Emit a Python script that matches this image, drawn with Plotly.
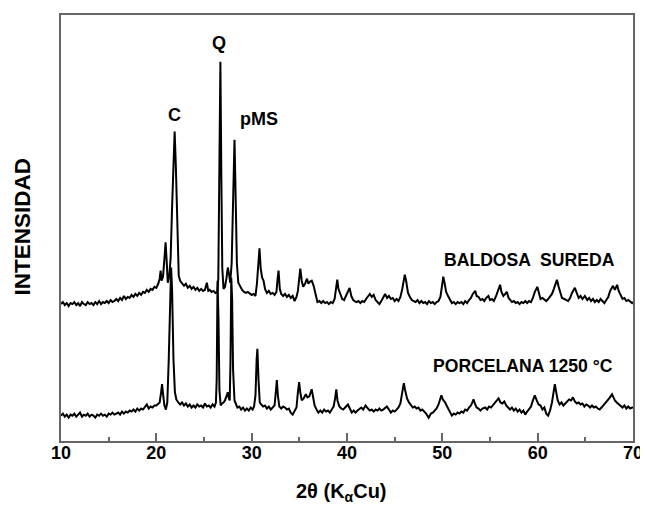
import plotly.graph_objects as go

# ---- data: (2theta, intensity in arbitrary units) ----
baldosa_points = [
    (10.0, 135), (10.2, 137), (10.4, 134), (10.6, 136), (10.8, 133), (11.0, 136), (11.2, 135), (11.4, 137),
    (11.6, 134), (11.8, 136), (12.0, 133), (12.2, 137), (12.4, 135), (12.6, 134), (12.8, 137), (13.0, 135),
    (13.2, 136), (13.4, 134), (13.6, 137), (13.8, 135), (14.0, 138), (14.2, 135), (14.4, 137), (14.6, 136),
    (14.8, 138), (15.0, 136), (15.2, 139), (15.4, 137), (15.6, 138), (15.8, 140), (16.0, 138), (16.2, 141),
    (16.4, 139), (16.6, 143), (16.8, 140), (17.0, 142), (17.2, 141), (17.4, 144), (17.6, 142), (17.8, 145),
    (18.0, 143), (18.2, 146), (18.4, 144), (18.6, 147), (18.8, 146), (19.0, 149), (19.2, 147), (19.4, 150),
    (19.6, 149), (19.8, 152), (20.0, 151), (20.2, 155), (20.35, 160), (20.45, 168), (20.55, 158), (20.7, 162),
    (20.85, 180), (20.97, 196), (21.1, 175), (21.2, 156), (21.35, 162), (21.5, 180), (21.65, 230), (21.8, 285),
    (21.92, 305), (22.05, 270), (22.2, 200), (22.35, 163), (22.5, 158), (22.7, 155), (22.9, 153), (23.1, 155),
    (23.3, 151), (23.5, 153), (23.7, 150), (23.9, 152), (24.1, 149), (24.3, 151), (24.5, 148), (24.7, 150),
    (24.9, 148), (25.1, 149), (25.3, 156), (25.45, 148), (25.6, 149), (25.8, 147), (26.0, 148), (26.2, 146),
    (26.4, 147), (26.5, 160), (26.6, 250), (26.72, 374), (26.82, 260), (26.92, 170), (27.05, 150), (27.2, 152),
    (27.35, 160), (27.5, 171), (27.62, 165), (27.75, 156), (27.9, 175), (28.05, 250), (28.2, 297), (28.32, 240),
    (28.45, 175), (28.6, 156), (28.8, 152), (29.0, 149), (29.2, 147), (29.4, 146), (29.6, 147), (29.8, 145),
    (30.0, 144), (30.2, 145), (30.4, 143), (30.55, 155), (30.7, 180), (30.82, 190), (30.95, 170), (31.1, 161),
    (31.25, 158), (31.4, 150), (31.6, 146), (31.8, 148), (32.0, 145), (32.2, 146), (32.4, 144), (32.6, 147),
    (32.72, 160), (32.82, 168), (32.95, 150), (33.1, 145), (33.3, 143), (33.5, 145), (33.7, 142), (33.9, 144),
    (34.1, 141), (34.3, 143), (34.5, 138), (34.7, 142), (34.85, 148), (35.0, 160), (35.1, 170), (35.25, 158),
    (35.4, 152), (35.6, 155), (35.8, 160), (35.95, 155), (36.1, 157), (36.3, 158), (36.5, 153), (36.7, 145),
    (36.9, 137), (37.1, 138), (37.3, 136), (37.5, 138), (37.7, 136), (37.9, 137), (38.1, 135), (38.3, 137),
    (38.5, 136), (38.7, 140), (38.85, 150), (38.98, 159), (39.1, 150), (39.3, 145), (39.5, 140), (39.7, 139),
    (39.9, 143), (40.1, 148), (40.27, 151), (40.45, 143), (40.65, 139), (40.8, 138), (41.0, 137), (41.2, 138),
    (41.4, 136), (41.6, 138), (41.8, 137), (42.0, 140), (42.2, 143), (42.4, 145), (42.6, 142), (42.8, 144),
    (43.0, 139), (43.2, 137), (43.4, 135), (43.6, 138), (43.8, 142), (44.0, 145), (44.2, 141), (44.4, 143),
    (44.6, 140), (44.8, 141), (45.0, 138), (45.2, 140), (45.4, 138), (45.6, 142), (45.8, 150), (45.95, 160),
    (46.06, 164), (46.2, 158), (46.4, 146), (46.6, 142), (46.8, 139), (47.0, 138), (47.2, 137), (47.4, 139),
    (47.6, 136), (47.8, 138), (48.0, 136), (48.2, 137), (48.4, 135), (48.6, 138), (48.8, 136), (49.0, 137),
    (49.2, 135), (49.4, 137), (49.6, 138), (49.8, 142), (49.95, 150), (50.1, 162), (50.25, 155), (50.4, 147),
    (50.6, 143), (50.8, 139), (51.0, 136), (51.2, 137), (51.4, 135), (51.6, 137), (51.8, 136), (52.0, 137),
    (52.2, 135), (52.4, 138), (52.6, 136), (52.8, 139), (53.0, 141), (53.2, 145), (53.45, 148), (53.6, 143),
    (53.8, 142), (54.0, 139), (54.2, 140), (54.4, 138), (54.6, 141), (54.84, 143), (55.0, 139), (55.2, 140),
    (55.4, 138), (55.6, 142), (55.8, 148), (55.95, 153), (56.06, 154), (56.2, 147), (56.4, 143), (56.6, 145),
    (56.76, 147), (56.95, 141), (57.1, 139), (57.3, 137), (57.5, 138), (57.7, 136), (57.9, 137), (58.1, 135),
    (58.3, 137), (58.5, 136), (58.7, 138), (58.9, 136), (59.1, 138), (59.3, 137), (59.5, 141), (59.7, 147),
    (59.96, 152), (60.15, 145), (60.3, 140), (60.5, 141), (60.7, 139), (60.9, 138), (61.1, 140), (61.3, 142),
    (61.5, 145), (61.7, 150), (61.85, 155), (62.02, 159), (62.2, 152), (62.4, 145), (62.55, 141), (62.8, 140),
    (63.0, 139), (63.2, 138), (63.4, 141), (63.6, 146), (63.9, 151), (64.1, 146), (64.3, 141), (64.5, 143),
    (64.7, 140), (64.95, 143), (65.2, 139), (65.4, 141), (65.6, 138), (65.8, 140), (66.0, 137), (66.2, 139),
    (66.4, 137), (66.6, 140), (66.8, 138), (67.0, 136), (67.2, 139), (67.4, 142), (67.6, 148), (67.9, 153),
    (68.1, 149), (68.33, 154), (68.5, 148), (68.7, 143), (68.9, 140), (69.1, 141), (69.3, 138), (69.5, 139),
    (69.7, 137), (69.9, 136), (70.0, 137),
]

porcelana_points = [
    (10.0, 25), (10.2, 27), (10.4, 24), (10.6, 26), (10.8, 23), (11.0, 26), (11.2, 25), (11.4, 27),
    (11.6, 24), (11.8, 26), (12.0, 28), (12.2, 24), (12.4, 26), (12.6, 25), (12.8, 27), (13.0, 24),
    (13.2, 26), (13.4, 25), (13.6, 23), (13.8, 26), (14.0, 25), (14.2, 27), (14.4, 25), (14.6, 26),
    (14.8, 24), (15.0, 27), (15.2, 26), (15.4, 28), (15.6, 26), (15.8, 27), (16.0, 28), (16.2, 26),
    (16.4, 29), (16.6, 27), (16.8, 29), (17.0, 28), (17.2, 30), (17.4, 29), (17.6, 31), (17.8, 29),
    (18.0, 32), (18.2, 30), (18.4, 32), (18.6, 31), (18.8, 33), (19.0, 36), (19.2, 32), (19.4, 34),
    (19.6, 33), (19.8, 35), (20.0, 35), (20.2, 37), (20.35, 38), (20.5, 48), (20.6, 56), (20.72, 45),
    (20.85, 35), (21.0, 31), (21.15, 38), (21.3, 80), (21.45, 150), (21.55, 171), (21.65, 150), (21.8, 80),
    (21.95, 48), (22.1, 41), (22.3, 38), (22.5, 36), (22.7, 38), (22.9, 35), (23.1, 37), (23.3, 34),
    (23.5, 36), (23.7, 33), (23.9, 35), (24.1, 33), (24.3, 36), (24.5, 34), (24.7, 35), (24.9, 33),
    (25.1, 37), (25.3, 34), (25.5, 35), (25.7, 33), (25.9, 36), (26.1, 34), (26.25, 38), (26.33, 60),
    (26.42, 158), (26.52, 120), (26.62, 50), (26.75, 35), (26.9, 37), (27.05, 38), (27.2, 40), (27.35, 44),
    (27.5, 48), (27.62, 42), (27.7, 40), (27.78, 80), (27.86, 161), (27.95, 140), (28.05, 70), (28.2, 40),
    (28.35, 36), (28.5, 33), (28.7, 34), (28.9, 31), (29.1, 33), (29.3, 30), (29.5, 32), (29.7, 30),
    (29.9, 33), (30.1, 31), (30.25, 34), (30.4, 45), (30.52, 80), (30.6, 91), (30.72, 60), (30.85, 38),
    (31.0, 36), (31.2, 34), (31.4, 35), (31.6, 32), (31.8, 34), (32.0, 31), (32.2, 33), (32.4, 35),
    (32.55, 50), (32.64, 60), (32.75, 45), (32.9, 34), (33.1, 32), (33.3, 34), (33.5, 33), (33.7, 31),
    (33.9, 32), (34.1, 28), (34.3, 26), (34.5, 29), (34.7, 33), (34.85, 48), (34.98, 58), (35.1, 48),
    (35.25, 40), (35.45, 42), (35.68, 46), (35.85, 43), (36.05, 44), (36.3, 51), (36.45, 42), (36.6, 35),
    (36.86, 30), (37.0, 28), (37.2, 30), (37.4, 28), (37.6, 31), (37.8, 29), (38.0, 30), (38.2, 28),
    (38.4, 31), (38.6, 34), (38.75, 42), (38.88, 51), (39.0, 40), (39.2, 34), (39.4, 32), (39.6, 31),
    (39.8, 33), (40.0, 35), (40.1, 36), (40.3, 32), (40.5, 28), (40.7, 30), (40.9, 28), (41.1, 30),
    (41.3, 32), (41.5, 33), (41.7, 31), (41.95, 35), (42.2, 32), (42.4, 30), (42.6, 31), (42.8, 29),
    (43.0, 31), (43.2, 30), (43.4, 32), (43.6, 30), (43.8, 31), (44.0, 33), (44.18, 34), (44.4, 31),
    (44.6, 28), (44.8, 30), (45.0, 29), (45.2, 31), (45.4, 33), (45.6, 37), (45.8, 47), (45.96, 57),
    (46.1, 50), (46.3, 42), (46.5, 38), (46.7, 35), (46.9, 33), (47.1, 34), (47.3, 32), (47.5, 33),
    (47.7, 30), (47.9, 31), (48.1, 29), (48.3, 27), (48.57, 23), (48.8, 27), (49.0, 28), (49.2, 30),
    (49.4, 32), (49.6, 36), (49.78, 42), (49.9, 45), (50.05, 41), (50.3, 38), (50.5, 34), (50.7, 30),
    (50.85, 27), (51.0, 25), (51.2, 27), (51.4, 26), (51.6, 28), (51.8, 27), (52.0, 29), (52.2, 28),
    (52.4, 31), (52.6, 30), (52.8, 33), (53.0, 35), (53.15, 38), (53.27, 41), (53.45, 36), (53.6, 33),
    (53.8, 32), (54.0, 30), (54.2, 32), (54.5, 33), (54.7, 31), (54.9, 34), (55.1, 33), (55.3, 35),
    (55.5, 37), (55.7, 39), (55.9, 42), (56.1, 38), (56.3, 37), (56.5, 39), (56.7, 35), (56.9, 33),
    (57.1, 31), (57.3, 33), (57.5, 30), (57.7, 32), (57.9, 29), (58.1, 31), (58.3, 28), (58.5, 30),
    (58.7, 26), (58.9, 29), (59.1, 31), (59.3, 34), (59.5, 40), (59.7, 45), (59.9, 40), (60.1, 36),
    (60.3, 35), (60.5, 31), (60.7, 33), (60.9, 27), (61.1, 25), (61.3, 30), (61.5, 38), (61.65, 48),
    (61.8, 56), (61.95, 48), (62.1, 40), (62.3, 36), (62.5, 38), (62.7, 35), (62.9, 37), (63.1, 39),
    (63.3, 41), (63.5, 40), (63.7, 43), (63.9, 39), (64.1, 37), (64.3, 38), (64.5, 36), (64.7, 37),
    (64.9, 34), (65.1, 36), (65.3, 35), (65.5, 33), (65.7, 35), (65.9, 33), (66.1, 34), (66.3, 32),
    (66.5, 31), (66.7, 33), (66.9, 35), (67.1, 37), (67.3, 40), (67.5, 42), (67.65, 44), (67.8, 46),
    (67.95, 43), (68.1, 40), (68.3, 38), (68.5, 36), (68.7, 35), (68.9, 33), (69.1, 35), (69.3, 32),
    (69.5, 34), (69.7, 32), (69.9, 33), (70.0, 33),
]

peak_labels = ["C", "Q", "pMS"]
peak_label_x = [21.9, 26.6, 30.76]
peak_label_y = [321, 392, 317]

sample_labels = ["BALDOSA  SUREDA", "PORCELANA 1250 °C"]
sample_label_x = [59.13, 58.47]
sample_label_y = [178, 74]

x_ticks = [10, 20, 30, 40, 50, 60, 70]

FONT = "Liberation Sans, Arial, Helvetica, sans-serif"

fig = go.Figure()
for pts in (baldosa_points, porcelana_points):
    fig.add_trace(go.Scatter(
        x=[p[0] for p in pts], y=[p[1] for p in pts],
        mode="lines", line=dict(color="black", width=2),
        showlegend=False, hoverinfo="skip",
    ))

annotations = []
for t, x, y in zip(peak_labels, peak_label_x, peak_label_y):
    annotations.append(dict(x=x, y=y, xref="x", yref="y", text=f"<b>{t}</b>",
                            showarrow=False, xanchor="center", yanchor="middle",
                            font=dict(family=FONT, size=18, color="black")))
for t, x, y in zip(sample_labels, sample_label_x, sample_label_y):
    annotations.append(dict(x=x, y=y, xref="x", yref="y", text=f"<b>{t}</b>",
                            showarrow=False, xanchor="center", yanchor="middle",
                            font=dict(family=FONT, size=17.6, color="black")))
# axis titles
annotations.append(dict(x=0.4904, y=-0.12, xref="paper", yref="paper",
                        text="<b>2θ (K<sub>α</sub>Cu)</b>", showarrow=False,
                        xanchor="center", yanchor="middle",
                        font=dict(family=FONT, size=20, color="black")))
annotations.append(dict(x=-0.068, y=0.504, xref="paper", yref="paper",
                        text="<b>INTENSIDAD</b>", showarrow=False, textangle=-90,
                        xanchor="center", yanchor="middle",
                        font=dict(family=FONT, size=22.5, color="black")))

# the page body adds an 8 px margin, so the figure is sized to fit inside it
fig.update_layout(
    width=640, height=497,
    margin=dict(l=53, r=13, t=5, b=64),
    paper_bgcolor="white", plot_bgcolor="white",
    annotations=annotations,
    xaxis=dict(
        range=[10, 70], tickvals=x_ticks, ticktext=[str(v) for v in x_ticks],
        ticks="inside", ticklen=8, tickwidth=2, tickcolor="#666",
        minor=dict(ticks="inside", ticklen=4, tickwidth=2, tickcolor="#666", dtick=5, showgrid=False),
        showline=True, linecolor="#666", linewidth=2, mirror=True,
        showgrid=False, zeroline=False, ticklabelstandoff=-6,
        tickfont=dict(family=FONT, size=18, color="black", weight="bold"),
    ),
    yaxis=dict(
        range=[0, 420], showticklabels=False, ticks="",
        showline=True, linecolor="#666", linewidth=2, mirror=True,
        showgrid=False, zeroline=False,
    ),
)

fig.write_html("out.html")
